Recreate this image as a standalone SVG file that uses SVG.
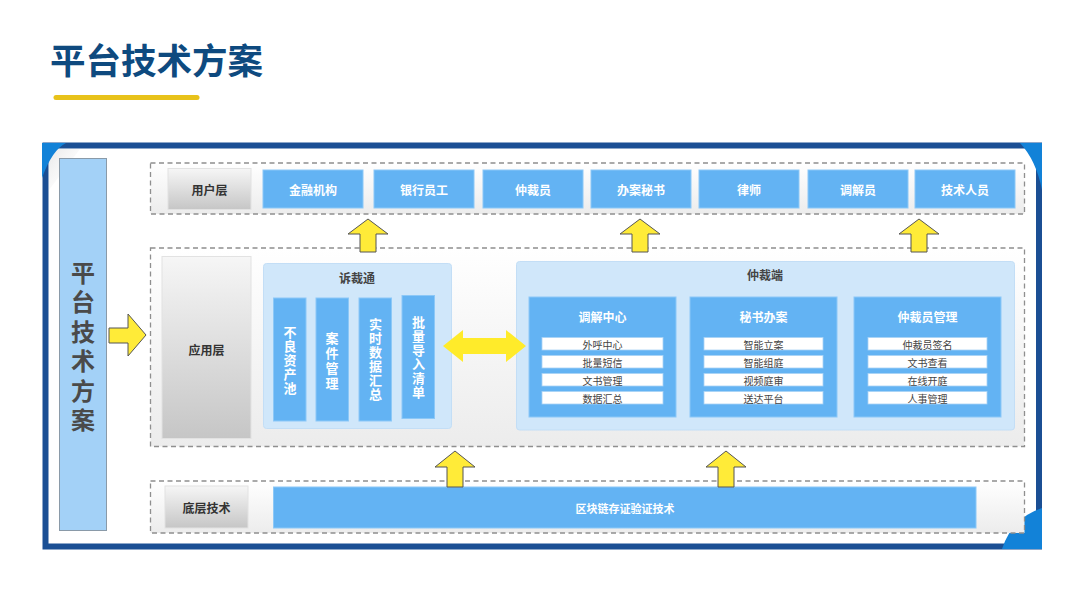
<svg xmlns="http://www.w3.org/2000/svg" width="1080" height="605" viewBox="0 0 1080 605">
<defs>
<linearGradient id="gGray" x1="0" y1="0" x2="0" y2="1"><stop offset="0" stop-color="#f6f6f6"/><stop offset="1" stop-color="#c6c6c6"/></linearGradient>
<linearGradient id="gLayer" x1="0" y1="0" x2="0" y2="1"><stop offset="0" stop-color="#ffffff"/><stop offset="1" stop-color="#ececec"/></linearGradient>
<linearGradient id="gShade" x1="0" y1="0" x2="1" y2="1"><stop offset="0" stop-color="#d8d8d8"/><stop offset="1" stop-color="#ffffff" stop-opacity="0"/></linearGradient>
<style>
.cjk{font-family:"Noto Sans CJK SC","Noto Sans",sans-serif;font-weight:bold;text-anchor:middle;dominant-baseline:central}
.vert{font-family:"Noto Sans CJK SC","Noto Sans",sans-serif;font-weight:bold;text-anchor:middle;writing-mode:vertical-rl}
.layer{fill:url(#gLayer);stroke:#8f8f8f;stroke-width:1.3;stroke-dasharray:5 3.5}
.gray{fill:url(#gGray);stroke:#e2e2e2;stroke-width:1}
.glbl{font-size:12px;fill:#333}
.blue{fill:#63b3f3;stroke:#8cc8f7;stroke-width:1}
.wlbl{font-size:12px;fill:#fff}
.panel{fill:#d0e7fa;stroke:#c3def6;stroke-width:1}
.ptitle{font-size:12px;fill:#444}
.item{fill:#fff;stroke:#a9d3f5;stroke-width:0.8}
.itxt{font-size:10px;fill:#444;font-weight:normal}
.vtxt{font-size:13px;fill:#fff;letter-spacing:1px}
.arr{fill:#ffeb38;stroke:#555;stroke-width:1}
</style>
</defs>
<rect width="1080" height="605" fill="#fff"/>
<g id="title">
<text x="50" y="58" style="font-family:'Noto Sans CJK SC',sans-serif;font-weight:bold;font-size:35.5px;fill:#0e4a7f;dominant-baseline:central">平台技术方案</text>
<line x1="56" y1="97.5" x2="197" y2="97.5" stroke="#e8c21a" stroke-width="5" stroke-linecap="round"/>
</g>
<g id="frame">
<rect x="45.5" y="145.5" width="993.5" height="401" fill="#fff" stroke="#1b4f94" stroke-width="6"/>
<path d="M49,149 L80,149 L49,190 Z" fill="url(#gShade)" opacity="0.6"/>
<path d="M42,143 L66,143 Q52,150 42,178 Z" fill="#1282d8"/>
<path d="M1020,143 L1042,143 L1042,190 Q1036,160 1020,143 Z" fill="#1282d8"/>
<path d="M1042,508 L1042,549 L1002,549 Q1012,518 1042,508 Z" fill="#1282d8"/>
</g>
<g id="side">
<rect x="59.5" y="158.5" width="47" height="372" fill="#a3d1f7" stroke="#8a9aa8" stroke-width="1"/>
<text class="vert" x="83" y="349" style="font-size:24px;fill:#4a4a4a;letter-spacing:5.5px">平台技术方案</text>
</g>
<g id="user-layer">
<rect class="layer" x="150.5" y="163" width="874" height="51"/>
<rect class="gray" x="168" y="168.5" width="83" height="41"/>
<text class="cjk glbl" x="209.5" y="189">用户层</text>
</g>
<g id="u1"><rect class="blue" x="263" y="170" width="100" height="38"/><text class="cjk wlbl" x="313" y="189">金融机构</text></g>
<g id="u2"><rect class="blue" x="374" y="170" width="100" height="38"/><text class="cjk wlbl" x="424" y="189">银行员工</text></g>
<g id="u3"><rect class="blue" x="483" y="170" width="100" height="38"/><text class="cjk wlbl" x="533" y="189">仲裁员</text></g>
<g id="u4"><rect class="blue" x="591" y="170" width="100" height="38"/><text class="cjk wlbl" x="641" y="189">办案秘书</text></g>
<g id="u5"><rect class="blue" x="699" y="170" width="100" height="38"/><text class="cjk wlbl" x="749" y="189">律师</text></g>
<g id="u6"><rect class="blue" x="808" y="170" width="100" height="38"/><text class="cjk wlbl" x="858" y="189">调解员</text></g>
<g id="u7"><rect class="blue" x="915" y="170" width="100" height="38"/><text class="cjk wlbl" x="965" y="189">技术人员</text></g>
<g id="app-layer">
<rect class="layer" x="150.5" y="248" width="874" height="198.5"/>
<rect class="gray" x="162" y="256.5" width="89" height="182"/>
<text class="cjk glbl" x="206.5" y="349">应用层</text>
</g>
<g id="sucaitong">
<rect class="panel" x="263.5" y="263.5" width="188" height="165" rx="3"/>
<text class="cjk ptitle" x="357" y="277">诉裁通</text>
</g>
<g id="s1"><rect class="blue" x="273.5" y="298" width="32.5" height="123"/><text class="vert vtxt" x="290" y="360.5">不良资产池</text></g>
<g id="s2"><rect class="blue" x="316" y="298" width="32.5" height="123"/><text class="vert vtxt" x="332" y="361.5" style="letter-spacing:2px">案件管理</text></g>
<g id="s3"><rect class="blue" x="359" y="298" width="32.5" height="123"/><text class="vert vtxt" x="375.5" y="359.5">实时数据汇总</text></g>
<g id="s4"><rect class="blue" x="402" y="295.5" width="32.5" height="123"/><text class="vert vtxt" x="418.5" y="358">批量导入清单</text></g>
<g id="zhongcaiduan">
<rect class="panel" x="516.5" y="261.5" width="498" height="168.5" rx="3"/>
<text class="cjk ptitle" x="765" y="274.5">仲裁端</text>
</g>
<g id="tiaojie">
<rect class="blue" x="529" y="297" width="147" height="120"/>
<text class="cjk wlbl" x="602.5" y="316.5">调解中心</text>
<rect class="item" x="542" y="337.5" width="121" height="12.5"/><text class="cjk itxt" x="602.5" y="344">外呼中心</text>
<rect class="item" x="542" y="355.5" width="121" height="12.5"/><text class="cjk itxt" x="602.5" y="362">批量短信</text>
<rect class="item" x="542" y="373.5" width="121" height="12.5"/><text class="cjk itxt" x="602.5" y="380">文书管理</text>
<rect class="item" x="542" y="391.5" width="121" height="12.5"/><text class="cjk itxt" x="602.5" y="398">数据汇总</text>
</g>
<g id="mishu">
<rect class="blue" x="690" y="297" width="147" height="120"/>
<text class="cjk wlbl" x="763.5" y="316.5">秘书办案</text>
<rect class="item" x="704" y="337.5" width="119" height="12.5"/><text class="cjk itxt" x="763.5" y="344">智能立案</text>
<rect class="item" x="704" y="355.5" width="119" height="12.5"/><text class="cjk itxt" x="763.5" y="362">智能组庭</text>
<rect class="item" x="704" y="373.5" width="119" height="12.5"/><text class="cjk itxt" x="763.5" y="380">视频庭审</text>
<rect class="item" x="704" y="391.5" width="119" height="12.5"/><text class="cjk itxt" x="763.5" y="398">送达平台</text>
</g>
<g id="zcygl">
<rect class="blue" x="854" y="297" width="147" height="120"/>
<text class="cjk wlbl" x="927.5" y="316.5">仲裁员管理</text>
<rect class="item" x="868" y="337.5" width="119" height="12.5"/><text class="cjk itxt" x="927.5" y="344">仲裁员签名</text>
<rect class="item" x="868" y="355.5" width="119" height="12.5"/><text class="cjk itxt" x="927.5" y="362">文书查看</text>
<rect class="item" x="868" y="373.5" width="119" height="12.5"/><text class="cjk itxt" x="927.5" y="380">在线开庭</text>
<rect class="item" x="868" y="391.5" width="119" height="12.5"/><text class="cjk itxt" x="927.5" y="398">人事管理</text>
</g>
<g id="base-layer">
<rect class="layer" x="150.5" y="481" width="874" height="52"/>
<rect class="gray" x="165" y="486" width="83" height="42"/>
<text class="cjk glbl" x="206.5" y="507">底层技术</text>
</g>
<g id="blockchain">
<rect class="blue" x="273.5" y="487" width="702.5" height="41"/>
<text class="cjk wlbl" x="625" y="507.5" style="font-size:11px">区块链存证验证技术</text>
</g>
<g id="connectors">
<path class="arr" d="M109,328 L128,328 L128,314 L146,335 L128,356 L128,343 L109,343 Z"/>
<path class="arr" d="M368,219 L388,234 L376,234 L376,252 L360,252 L360,234 L348,234 Z"/>
<path class="arr" d="M640,219 L660,234 L648,234 L648,252 L632,252 L632,234 L620,234 Z"/>
<path class="arr" d="M919,219 L939,234 L927,234 L927,252 L911,252 L911,234 L899,234 Z"/>
<path class="arr" d="M455,451 L475,467 L463,467 L463,487 L447,487 L447,467 L435,467 Z"/>
<path class="arr" d="M726,451 L746,467 L734,467 L734,487 L718,487 L718,467 L706,467 Z"/>
<path d="M443,346 L463,330 L463,338 L506,338 L506,330 L526,346 L506,362 L506,354 L463,354 L463,362 Z" fill="#ffeb2a"/>
</g>
</svg>
